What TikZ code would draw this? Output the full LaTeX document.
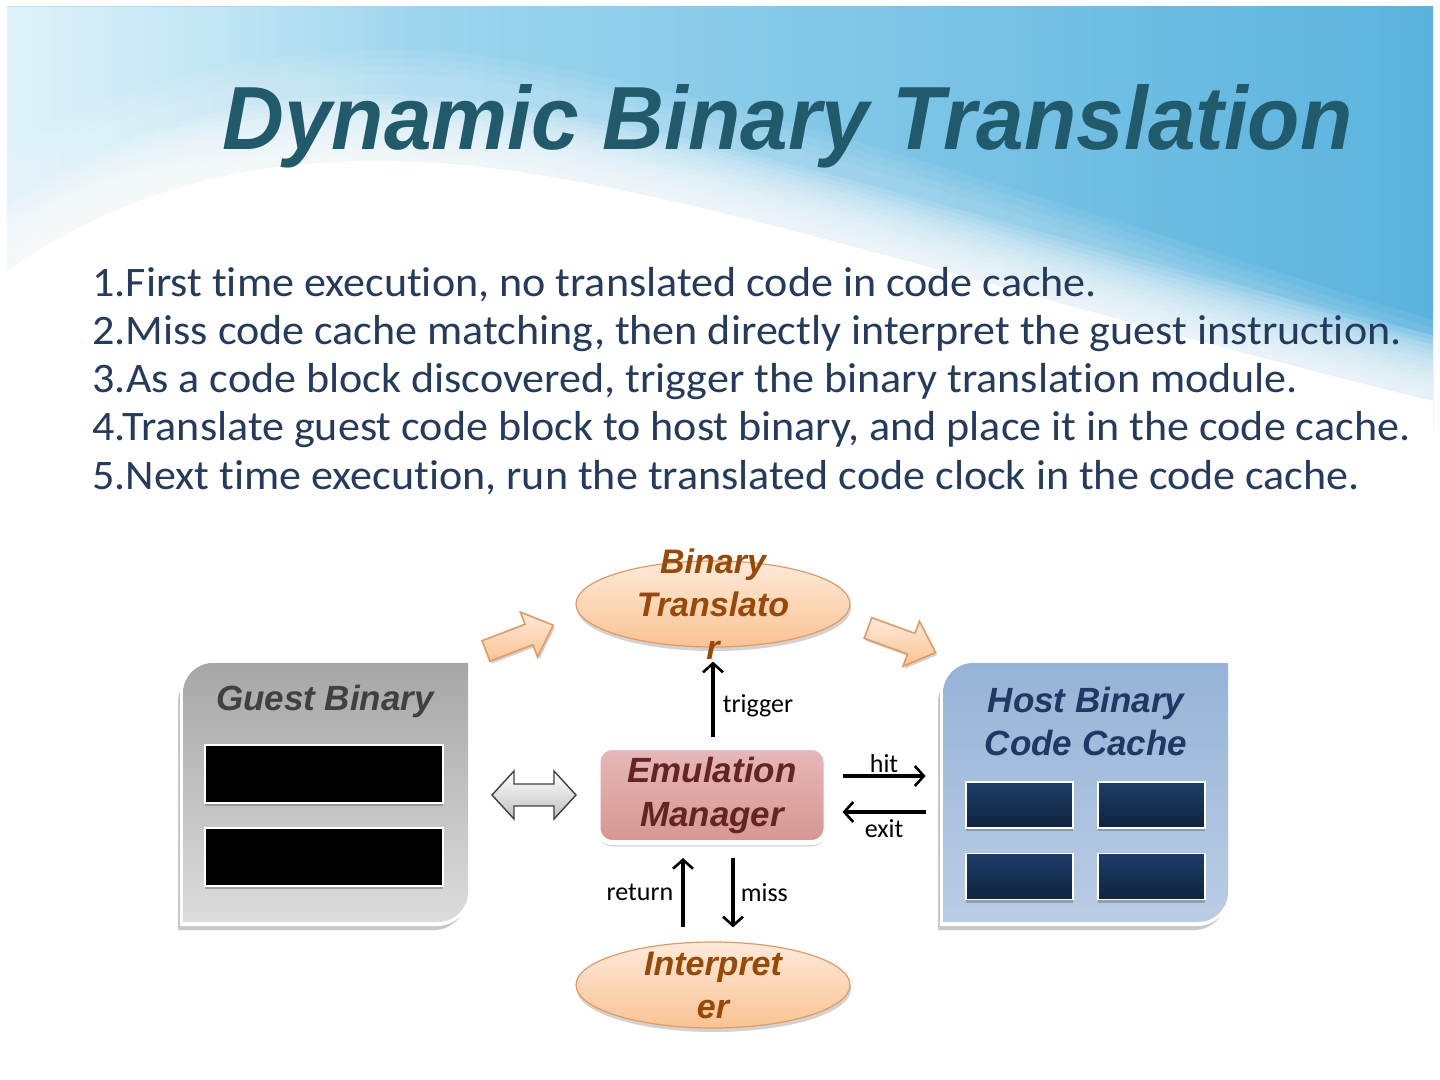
\documentclass[tikz,border=0pt]{standalone}
\usepackage{fontspec}
\setmainfont{Liberation Sans}
\newfontfamily\calib[RawFeature={-liga}]{Carlito}
\usetikzlibrary{arrows.meta,calc,shapes.geometric,shadows,fadings}
\definecolor{titlecol}{HTML}{215A6B}
\definecolor{bodycol}{HTML}{243B5E}
\definecolor{skyA}{HTML}{B8E3F4}
\definecolor{skyB}{HTML}{5AB3DE}
\definecolor{peachT}{HTML}{FDEADA}
\definecolor{peachB}{HTML}{FAC392}
\definecolor{peachD}{HTML}{E39A62}
\definecolor{brownT}{HTML}{984807}
\definecolor{emT}{HTML}{E6B9B8}
\definecolor{emB}{HTML}{D79593}
\definecolor{emTxt}{HTML}{632523}
\definecolor{guestT}{HTML}{A6A6A6}
\definecolor{guestB}{HTML}{DCDCDC}
\definecolor{guestTxt}{HTML}{404040}
\definecolor{hostT}{HTML}{95B3D7}
\definecolor{hostB}{HTML}{BACDE5}
\definecolor{hostTxt}{HTML}{1F3864}
\definecolor{navyT}{HTML}{1D3D68}
\definecolor{navyB}{HTML}{0F2440}
\newlength\bodyw
\newcommand\cutbox[5]{(#1,#4) -- (#1,#2+#5) .. controls (#1,#2+0.45*#5) and (#1+0.45*#5,#2) .. (#1+#5,#2) -- (#3,#2) -- (#3,#4-#5) .. controls (#3,#4-0.45*#5) and (#3-0.45*#5,#4) .. (#3-#5,#4) -- cycle}
\tikzset{
  bodyline/.style={anchor=base west, inner sep=0, text=bodycol, font=\calib\fontsize{21pt}{25pt}\selectfont},
  boxtitle/.style={font=\bfseries\itshape\fontsize{17.5pt}{21.5pt}\selectfont, align=center, inner sep=0},
  ellnode/.style={ellipse, minimum width=137pt, minimum height=43pt, inner sep=0, draw=peachD, line width=0.6pt,
     top color=peachT, bottom color=peachB, drop shadow={shadow xshift=0.5pt, shadow yshift=-2pt, opacity=0.35}},
  elltext/.style={font=\bfseries\itshape\fontsize{17pt}{21.5pt}\selectfont, text=brownT, align=center, inner sep=0},
  emnode/.style={rectangle, rounded corners=7pt, minimum width=114pt, minimum height=47.5pt, inner sep=0,
     top color=emT, bottom color=emB, draw=white, line width=2.5pt, text=emTxt,
     font=\bfseries\itshape\fontsize{17.5pt}{22pt}\selectfont, align=center,
     drop shadow={shadow xshift=0pt, shadow yshift=-2pt, opacity=0.3}},
  guestbar/.style={rectangle, fill=black, draw=white, line width=0.7pt, minimum width=119pt, minimum height=29pt, inner sep=0,
     drop shadow={shadow xshift=0pt, shadow yshift=-1.5pt, opacity=0.45, fill=black!60}},
  hostbar/.style={rectangle, top color=navyT, bottom color=navyB, draw=white, line width=0.7pt, minimum width=53.5pt, minimum height=23pt, inner sep=0,
     drop shadow={shadow xshift=0pt, shadow yshift=-1.5pt, opacity=0.45, fill=black!60}},
  conn/.style={draw=black, line width=1.8pt, -{Straight Barb[length=4.5pt,width=10pt,line width=1.3pt]}},
  clabel/.style={font=\calib\fontsize{13pt}{15pt}\selectfont, text=black, inner sep=2pt},
  blockarrow/.style={draw=peachD, line width=0.8pt, top color=peachT, bottom color=peachB,
     drop shadow={shadow xshift=0.8pt, shadow yshift=-1.2pt, opacity=0.35}},
  grayarrow/.style={draw=black!75, line width=0.7pt, top color=white, bottom color=black!25}
}
\begin{document}
\settowidth\bodyw{\calib\fontsize{21pt}{25pt}\selectfont 4.Translate guest code block to host binary, and place it in the code cache.}%
\pgfmathsetmacro\bsc{659pt/\bodyw}%
\begin{tikzpicture}[x=0.5pt,y=-0.5pt]
\useasboundingbox (0,0) rectangle (1440,1080);
\fill[white] (0,0) rectangle (1440,1080);
% sky background
\shade[left color=skyA, right color=skyB] (7,7) rectangle (1433,430);
\fill[white, opacity=0.55, path fading=east] (7,7) rectangle (420,260);
% light streak
\foreach \d in {0,8,16,24} {
  \fill[white,opacity=0.07,shift={(0,\d)}] (7,150) .. controls (150,65) and (300,48) .. (410,50) .. controls (650,58) and (1100,220) .. (1433,320) -- (1433,430) -- (7,430) -- cycle;
}
% white wave with soft edge
\foreach \d in {0,5,...,60} {
  \fill[white,opacity=0.13,shift={(0,\d)}] (7,205) .. controls (150,105) and (300,90) .. (420,96) .. controls (650,106) and (1000,230) .. (1433,335) -- (1433,1080) -- (7,1080) -- cycle;
}
\fill[white,shift={(0,66)}] (7,205) .. controls (150,105) and (300,90) .. (420,96) .. controls (650,106) and (1000,230) .. (1433,335) -- (1433,1080) -- (7,1080) -- cycle;
% title
\node[anchor=base west, inner sep=0, text=titlecol] (title) at (222,150)
  {\resizebox{565pt}{32.5pt}{\bfseries\itshape Dynamic Binary Translation}};
% body text
\node[bodyline] (l1) at (92,297) {\scalebox{\bsc}[1]{1.First time execution, no translated code in code cache.}};
\node[bodyline] (l2) at (92,345) {\scalebox{\bsc}[1]{2.Miss code cache matching, then directly interpret the guest instruction.}};
\node[bodyline] (l3) at (92,393) {\scalebox{\bsc}[1]{3.As a code block discovered, trigger the binary translation module.}};
\node[bodyline] (l4) at (92,441) {\scalebox{\bsc}[1]{4.Translate guest code block to host binary, and place it in the code cache.}};
\node[bodyline] (l5) at (92,489) {\scalebox{\bsc}[1]{5.Next time execution, run the translated code clock in the code cache.}};
% guest binary box
\node[minimum width=142.5pt, minimum height=129.5pt, inner sep=0] (guest) at (325.5,792.5) {};
\fill[black!22] \cutbox{178}{670}{466}{930}{32};
\fill[white] \cutbox{180}{661}{470}{926}{33};
\shade[top color=guestT, bottom color=guestB] \cutbox{183}{663}{468}{922}{30};
\node[boxtitle, text=guestTxt] (guesttitle) at (325,701) {Guest Binary};
\node[guestbar] (g1) at (324,774) {};
\node[guestbar] (g2) at (324,857) {};
% host binary box
\node[minimum width=142.5pt, minimum height=129.5pt, inner sep=0] (cache) at (1085.5,792.5) {};
\fill[black!22] \cutbox{938}{670}{1226}{930}{32};
\fill[white] \cutbox{940}{661}{1230}{926}{33};
\shade[top color=hostT, bottom color=hostB] \cutbox{943}{663}{1228}{922}{30};
\node[boxtitle, text=hostTxt] (hosttitle) at (1086,721) {Host Binary\\Code Cache};
\node[hostbar] (h1) at (1019.5,805) {};
\node[hostbar] (h2) at (1151.5,805) {};
\node[hostbar] (h3) at (1019.5,876.5) {};
\node[hostbar] (h4) at (1151.5,876.5) {};
% central nodes
\node[ellnode, label={[elltext]center:Binary\\Translato\\r}] (bt) at (713,604) {};
\node[ellnode, label={[elltext]center:Interpret\\er}] (interp) at (713,985) {};
\node[emnode] (em) at (712,795) {Emulation\\Manager};
% connectors
\draw[conn] ($(em.north)+(1,-8)$) -- node[clabel, right, xshift=2pt, yshift=-3pt] {trigger} ($(bt.south)+(0,14)$);
\draw[conn] ($(em.east)+(14,-19)$) -- node[clabel, above, inner sep=1pt] {hit} ($(cache.west)+(-17,-16.5)$);
\draw[conn] ($(cache.west)+(-17,19.5)$) -- node[clabel, below, inner sep=1pt, yshift=-2pt] {exit} ($(em.east)+(14,17)$);
\draw[conn] ($(interp.north)+(-30,-14)$) -- node[clabel, left, xshift=-2pt] {return} ($(em.south)+(-29,13)$);
\draw[conn] ($(em.south)+(21,13)$) -- node[clabel, right, xshift=1pt] {miss} ($(interp.north)+(20,-14)$);
% block arrows
\begin{scope}[shift={(486,651)}, rotate=21]
  \path[blockarrow] (0,-11) -- (46,-11) -- (46,-24) -- (72,0) -- (46,24) -- (46,11) -- (0,11) -- cycle;
\end{scope}
\begin{scope}[shift={(868,628)}, rotate=-20]
  \path[blockarrow] (0,-11) -- (46,-11) -- (46,-24) -- (72,0) -- (46,24) -- (46,11) -- (0,11) -- cycle;
\end{scope}
\begin{scope}[shift={(534,795)}]
  \path[grayarrow] (-42,0) -- (-20,-24) -- (-20,-11) -- (20,-11) -- (20,-24) -- (42,0) -- (20,24) -- (20,11) -- (-20,11) -- (-20,24) -- cycle;
\end{scope}
\end{tikzpicture}
\end{document}
